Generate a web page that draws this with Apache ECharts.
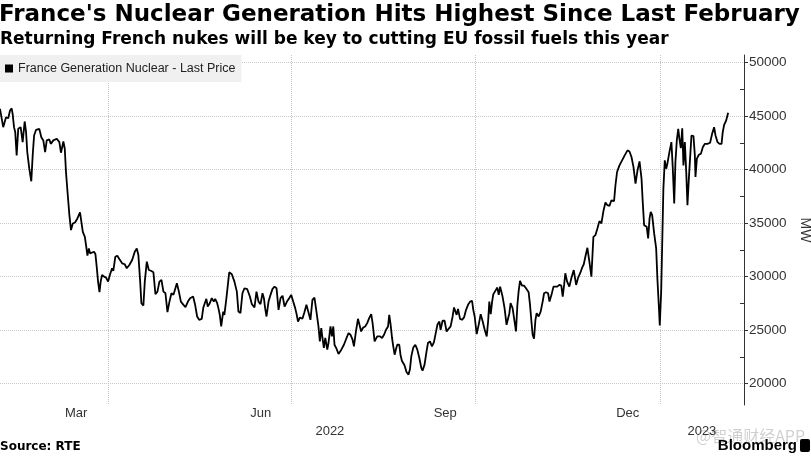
<!DOCTYPE html>
<html><head><meta charset="utf-8">
<script src="https://cdn.jsdelivr.net/npm/echarts@6/dist/echarts.min.js"></script>
<style>html,body{margin:0;padding:0;background:#fff}#c{width:811px;height:457px}</style>
</head><body><div id="c"></div>
<script>
// ---- data ----
// x: days since 2022-02-06, y: French nuclear generation in MW
const startDate = '2022-02-06';
const endDate = '2023-02-12';

const segA_days = [0,1.6,3,4.1,5,5.8,6.3,7,7.6,8.3,9.1,10.3,11.3,12.3,13,13.6,14.6,15.6,16.3,17,18,19.6,20.6,21.6,22.5,23.3,24.6,25.3,26.6,28.3,29.6,30.4,31.6,32.3,32.9,33.8,34.6,35.4,36.3,37.4,38.6,39.9,40.6,41.3,42.3,42.9,43.6,44.3,44.9,45.8,46.9,47.6,48.3,48.9,49.6,50.2,50.9,51.9,52.9,53.9,54.9,55.9,56.5,57.5,58.5,59.5,60.9,62.2,63.2,64.5,65.9,67.2,68.2,69,69.9,70.5,71.5,72.2,73.2,74.2,75.5,76.5,77.5,78.5,79.5,80.5,81.5,82.5,83.5,84.5,85.5,86.5,88.2,89.2,90.2,91.5,92.5];
const segA_mw = [45670,43960,44890,44790,45510,45720,45200,43960,43490,41320,43800,43960,42560,44490,43490,41630,40080,38900,41320,43180,43710,43800,43020,42720,41630,42720,42810,42400,42720,42870,42560,41570,42620,41940,39770,37600,35740,34340,34960,35050,35430,35990,35890,34180,33710,32940,31950,32630,32170,32320,32320,32080,30770,29530,28540,29530,30150,29990,29900,29530,30210,30770,30520,31850,31950,31640,31240,31150,30770,31080,31550,32320,32630,32010,29530,27510,27290,29530,31390,30610,30520,30400,28350,28590,29530,29680,28590,28440,26670,27660,28440,28290,29380,28590,27660,27350,27150];

const segB_days = [93.7,94.8,96.3,97.3,98.3,99.3,100.6,101.4,102.3,102.9,103.6,104.6,105.6,106.6,107.3,108.3,108.9,109.6,110.3,111.3,111.9,112.9,114.3,115.6,116.9,118.1,118.9,119.9,120.9,121.9,123.3,124.6,125.6,126.9,127.9,128.9,129.9,130.9,131.6,132.2,132.9,133.9,134.9,135.9,136.9,137.9,138.9,139.9,140.9,141.9,143.1,144.2,145.2,146.2,147.2,147.9,148.6,149.6,150.8,151.8,152.8,153.8,154.8,155.8,156.8,157.8,158.8,159.5,160.2,160.8,161.5,162.2,163.2,163.8,164.8,165.5,166.2,166.8,167.8,168.8,170.2,171.5,172.8,173.8,174.8,175.8,176.5,177.5,178.5,179.1,180.1,181.1,182.1,183.1,184.1,185.1,185.8,186.8];
const segB_mw = [27660,27980,28130,27360,26270,25960,26050,27110,27290,27920,27200,27510,27980,27660,27920,27510,27050,26420,25340,26730,26420,27980,30400,30210,29530,28590,26730,26580,28440,28910,28820,28130,27420,27110,28590,27660,27420,28440,27980,27050,26270,27660,28290,28850,29060,28910,26890,27980,28210,27200,27660,27980,28290,27660,27050,26490,25800,26180,26050,26670,27360,26670,25960,27820,28040,26730,25340,23940,25190,24260,23330,24260,23170,23790,25340,24410,25340,23630,23260,22770,23170,23630,24260,24720,24560,24100,23480,24870,26050,26180,24870,25240,25340,25650,26120,26490,25650,23940];

const segC_days = [188.1,189.5,190.5,191.5,192.5,193.5,194.1,194.8,195.5,196.1,196.8,197.5,198.1,199.1,199.7,200.4,201.1,201.7,202.7,203.7,204.4,205.1,206.1,207.1,208.1,209.1,210.1,210.7,211.7,212.7,213.4,214.4,215.4,216.4,217.1,218.1,219.1,219.7,220.7,221.7,222.7,223.7,224.7,225.7,226.4,227,227.7,228.4,229.4,230.4,231.4,232.4,233.4,234.4,235.4,236,236.7,237.7,238.7,239.7,240.7,241.7,242.7,243.4,244,244.7,245.4,246,247,248,248.7,249.4,250,250.6,251.6,252.6,253.3,254,254.6,255.6,256.6,257.3,258,258.6,259.3,260.3,261.3,262.3,263.6,264.3,265,265.6,266.3,267,267.6,268.6,269.6,270.6,271.3,272.3,273.3,274,275,276,276.9,277.9,278.9,279.9,280.6,281.3,281.9];
const segC_mw = [24410,24410,24260,24560,25030,25340,26420,25490,24260,23480,22700,23260,23630,23630,22700,22140,22240,21710,21090,20840,21310,22540,23380,23630,23170,22390,21460,21210,21770,23010,23790,23940,23480,23880,24000,25490,25800,25030,25870,25870,24870,25120,25340,26270,27110,27200,26420,26980,26050,25960,26180,26890,27360,27660,27730,26890,26270,24630,25490,26490,25800,25030,24410,25800,27660,26490,27660,28350,28660,28970,28290,29060,28910,28130,27050,25490,25340,26580,27510,27050,25800,24870,27360,28590,29590,29150,29150,28910,28540,27360,25800,24560,24190,25960,26580,26270,26730,27660,28440,28540,28440,27660,28290,29060,29150,29060,29220,29150,28130,29220,30310];

const segD_days = [282.8,283.9,284.9,286.1,287.3,288.3,289.3,290.3,291.1,291.9,292.9,293.9,294.9,295.9,296.9,297.9,298.9,299.9,300.9,301.9,302.9,303.9,304.9,306.2,306.9,307.7,308.9,310.2,311.5,312.9,313.9,314.9,315.9,316.9,317.9,318.9,319.9,320.5,321.2,321.9,322.5,323.2,323.9,324.5,325.2,326.2,327.2,327.8,328.5,329,329.7,330.2,330.8,331.5,332.2,332.8,333.8,334.8,335.5,336.2,336.8,337.5,338.2,338.8,339.5,340.2,340.8,341.5,342.2,342.8,343.5,344.2,344.8,345.8,346.5,346.8,347.5,348.5,349.5,350.5,351.5,352.8,354.1,355.1,356.1,356.8,357.8,358.8,359.8,360.4,361.1,362.1,363.1];
const segD_mw = [29530,29060,29840,30610,29220,29900,30310,30830,31150,31850,32690,31390,29990,33710,33870,34500,35180,34960,36110,36920,36670,36600,37130,37040,38530,39770,40390,40860,41320,41790,41690,41170,40230,38680,39920,40760,39150,36980,34800,34960,34650,33560,35430,36040,35740,34030,32630,29840,27360,25430,28590,32940,38210,40860,40080,40550,41630,42560,40080,36820,40700,42720,43800,42870,42000,43860,40390,42560,39770,36670,39150,41320,43180,43120,41320,39300,41010,41380,41480,42100,42400,42400,42500,43340,43960,43180,42560,42400,42400,43490,44180,44580,45300];

// axis ticks / labels
const gridDates = ['2022-04-01','2022-07-01','2022-10-01','2023-01-01'];
const monthLabelDates = ['2022-03-16','2022-06-16','2022-09-16','2022-12-16'];
const monthNames = ['Jan','Feb','Mar','Apr','May','Jun','Jul','Aug','Sep','Oct','Nov','Dec'];
const yMajorTicks = [20000,25000,30000,35000,40000,45000,50000];
const yMinorTicks = [22500,27500,32500,37500,42500,47500];
const yMin = 18000, yMax = 50700;
const seriesName = 'France Generation Nuclear - Last Price';

// ---- build ----
const DAY = 864e5;
const toTs = s => { const p = s.split('-').map(Number); return Date.UTC(p[0], p[1]-1, p[2]); };
const t0 = toTs(startDate), t1 = toTs(endDate);
const days = [].concat(segA_days, segB_days, segC_days, segD_days);
const mw = [].concat(segA_mw, segB_mw, segC_mw, segD_mw);
const data = days.map((d, i) => [t0 + d * DAY, mw[i]]);
const yearStart2023 = toTs('2023-01-01');
const yearLabelPos = [(t0 + yearStart2023) / 2, (yearStart2023 + t1) / 2];

const FONT = 'Liberation Sans, Arial, sans-serif';
const TFONT = 'DejaVu Sans, Verdana, sans-serif';
const chart = echarts.init(document.getElementById('c'), null, {renderer: 'canvas'});
chart.setOption({
  animation: false,
  backgroundColor: '#fff',
  textStyle: {fontFamily: FONT},
  title: [
    {text: "France's Nuclear Generation Hits Highest Since Last February", left: -1, top: 4, padding: 0,
     textStyle: {fontSize: 23, fontWeight: 'bold', color: '#000', fontFamily: TFONT}},
    {text: 'Returning French nukes will be key to cutting EU fossil fuels this year', left: 0, top: 31, padding: 0,
     textStyle: {fontSize: 17, fontWeight: 'bold', color: '#000', fontFamily: TFONT}},
    {text: 'Source: RTE', left: 0, top: 441, padding: 0,
     textStyle: {fontSize: 12, fontWeight: 'bold', color: '#000', fontFamily: TFONT}},
    {text: 'Bloomberg', right: 14, top: 438, padding: 0,
     textStyle: {fontSize: 15, fontWeight: 'bold', color: '#000', fontFamily: FONT}}
  ],
  graphic: [
    {type: 'rect', right: 1, top: 439, shape: {width: 10, height: 13, r: 2}, style: {fill: '#000'}},
    {type: 'text', left: 696, top: 428, style: {text: '@智通财经APP', fill: 'rgba(120,120,120,0.35)',
      font: '16px "Noto Sans CJK SC"'}}
  ],
  legend: {
    data: [{name: seriesName, icon: 'rect'}],
    left: 0, top: 55, itemWidth: 8, itemHeight: 8, itemGap: 4,
    backgroundColor: '#f0f0f0', padding: [7, 6, 7, 5],
    textStyle: {fontSize: 12.5, color: '#222', fontFamily: FONT}
  },
  grid: {left: 0, right: 67, top: 55, bottom: 52, containLabel: false, outerBoundsMode: 'none'},
  xAxis: [
    {type: 'value', min: t0, max: t1, position: 'bottom',
     axisLine: {show: false}, axisTick: {show: false, customValues: gridDates.map(toTs)},
     splitLine: {show: true, lineStyle: {color: '#c8c8c8', type: 'dotted', width: 1}},
     axisLabel: {customValues: monthLabelDates.map(toTs), color: '#333', fontSize: 13, margin: 2,
       formatter: v => monthNames[new Date(v).getUTCMonth()]}},
    {type: 'value', min: t0, max: t1, position: 'bottom', offset: 17,
     axisLine: {show: false}, axisTick: {show: false}, splitLine: {show: false},
     axisLabel: {customValues: yearLabelPos, color: '#333', fontSize: 13, margin: 3,
       formatter: v => String(new Date(v).getUTCFullYear())}}
  ],
  yAxis: [
    {type: 'value', position: 'right', min: yMin, max: yMax,
     axisLine: {show: true, lineStyle: {color: '#333', width: 1}},
     axisTick: {show: true, length: 4, customValues: yMajorTicks, lineStyle: {color: '#333'}},
     axisLabel: {customValues: yMajorTicks, color: '#333', fontSize: 13.5, margin: 5,
       formatter: v => String(v)},
     splitLine: {show: true, lineStyle: {color: '#c8c8c8', type: 'dotted', width: 1}},
     name: 'MW', nameLocation: 'middle', nameGap: 49, nameRotate: -90,
     nameTextStyle: {fontSize: 14, color: '#333', fontFamily: FONT}},
    {type: 'value', position: 'right', min: yMin, max: yMax,
     axisLine: {show: false},
     axisTick: {show: true, inside: true, length: 4, customValues: yMinorTicks, lineStyle: {color: '#333'}},
     axisLabel: {show: false}, splitLine: {show: false}}
  ],
  series: [{
    name: seriesName, type: 'line', data: data, xAxisIndex: 0, yAxisIndex: 0,
    showSymbol: false, symbol: 'none', color: '#000',
    lineStyle: {color: '#000', width: 1.8}
  }]
});
</script></body></html>
